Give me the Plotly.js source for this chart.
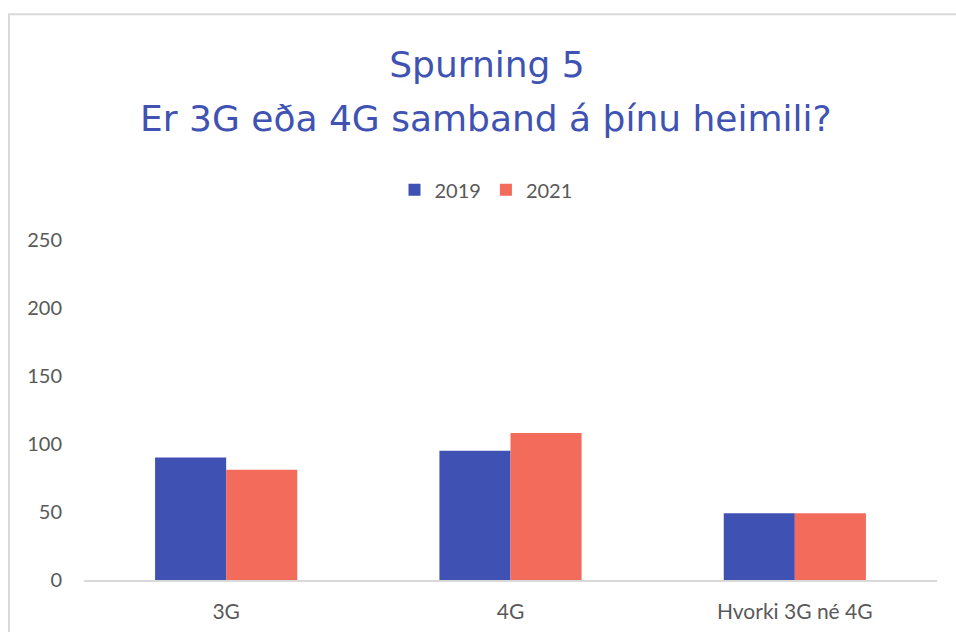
<!DOCTYPE html>
<html>
<head>
<meta charset="utf-8">
<script src="https://cdn.plot.ly/plotly-3.0.1.min.js"></script>
<style>html,body{margin:0;padding:0;background:#fff;}#chart{width:956px;height:632px;}</style>
</head>
<body>
<div id="chart"></div>
<script>
const categories = ["3G", "4G", "Hvorki 3G né 4G"];
const seriesNames = ["2019", "2021"];
const values2019 = [90, 95, 49];
const values2021 = [81, 108, 49];
const yTicks = [0, 50, 100, 150, 200, 250];
const titleLine1 = "Spurning 5";
const titleLine2 = "Er 3G eða 4G samband á þínu heimili?";

const FONT = "Lato, 'Open Sans', sans-serif";
const TITLE_FONT = "'DejaVu Sans', 'Open Sans', sans-serif";
const BLUE = "#3F52B4";
const RED = "#F26B5B";
const TEXT = "#595959";

const traces = [
  {type: "bar", name: seriesNames[0], x: categories, y: values2019, marker: {color: BLUE}, hoverinfo: "x+y+name"},
  {type: "bar", name: seriesNames[1], x: categories, y: values2021, marker: {color: RED}, hoverinfo: "x+y+name"}
];

const layout = {
  width: 956, height: 632,
  margin: {l: 84, r: 19, t: 240, b: 52, pad: 0},
  paper_bgcolor: "#ffffff", plot_bgcolor: "#ffffff",
  font: {family: FONT, color: TEXT, size: 20},
  title: {text: titleLine1, font: {family: TITLE_FONT, size: 36, color: "#4053B3"},
          x: 487 / 956, xref: "container", xanchor: "center", y: 1 - 64/632, yref: "container", yanchor: "middle"},
  annotations: [{text: titleLine2, showarrow: false, xref: "paper", yref: "paper",
                 x: (486 - 84)/853, xanchor: "center", y: (580.3 - 119)/340, yanchor: "middle",
                 font: {family: TITLE_FONT, size: 36, color: "#4053B3"}}],
  barmode: "group", bargap: 0.5, bargroupgap: 0,
  showlegend: true,
  legend: {orientation: "h", x: (486 - 84)/853, xanchor: "center", y: (580.3 - 190)/340, yanchor: "middle",
           font: {family: FONT, size: 20, color: TEXT}, itemwidth: 30, traceorder: "normal"},
  xaxis: {type: "category", showgrid: false, zeroline: false, showline: true, linecolor: "#D9D9D9", linewidth: 1.5,
          ticks: "", tickfont: {family: FONT, size: 21, color: TEXT}, ticklabelstandoff: 12, fixedrange: true},
  yaxis: {range: [0, 250], tickvals: yTicks, ticktext: yTicks.map(String), showgrid: false, zeroline: false,
          showline: false, ticks: "", tickfont: {family: FONT, size: 20, color: TEXT}, ticklabelstandoff: 21, fixedrange: true},
  shapes: [
    {type: "path", xref: "paper", yref: "paper",
     path: "M " + ((9 - 84)/853) + " " + ((580.3 - 640)/340) + " L " + ((9 - 84)/853) + " " + ((580.3 - 14.5)/340) + " L " + ((960 - 84)/853) + " " + ((580.3 - 14.5)/340),
     line: {color: "#D9D9D9", width: 2}}
  ]
};

Plotly.newPlot("chart", traces, layout, {displayModeBar: false, staticPlot: false});
</script>
</body>
</html>
